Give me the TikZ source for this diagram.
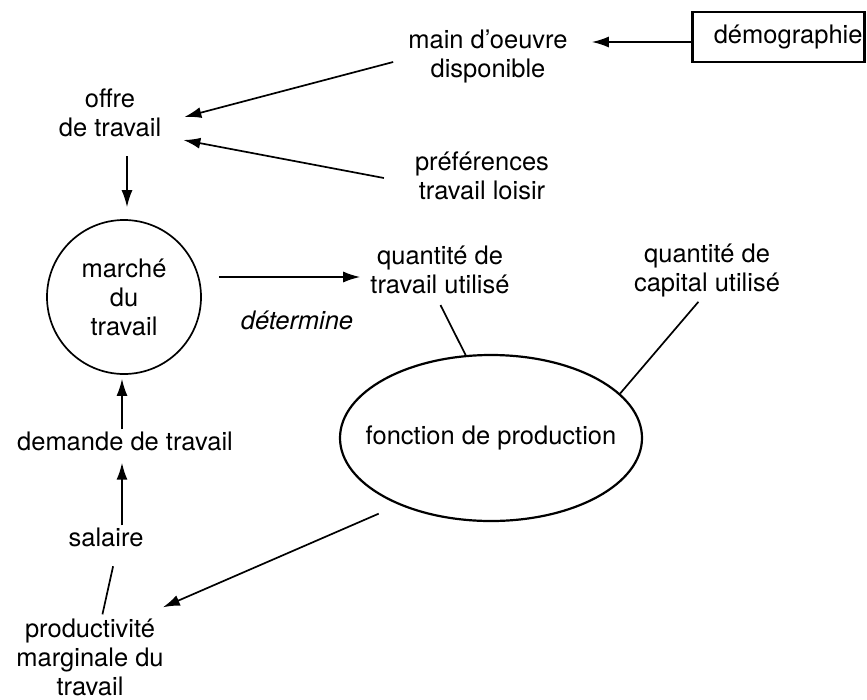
\documentclass[tikz,border=0pt]{standalone}
\usepackage{fontspec}
\setmainfont{TeX Gyre Heros}
\usetikzlibrary{arrows.meta,shapes.geometric,calc}
\begin{document}
\begin{tikzpicture}[x=1pt,y=-1pt,
  txt/.style={font=\fontsize{25.5}{29}\selectfont},
  lbl/.style={txt,align=center,inner sep=2pt},
  arr/.style={line width=1.7pt,-{Latex[length=17pt,width=11pt]}},
  ln/.style={line width=1.7pt}]
\useasboundingbox (0,0) rectangle (867,699);
% nodes
\node[draw,line width=2.6pt,minimum height=50pt,text width=168pt,align=right,inner xsep=2pt,txt] (demo) at (778.5,37) {démographie};
\node[lbl] (main) at (488,56) {main d'oeuvre\\disponible};
\node[lbl] (offre) at (110,113) {offre\\de travail};
\node[lbl] (pref) at (482,176) {préférences\\travail loisir};
\node[lbl,draw,circle,line width=1.7pt,minimum size=154pt,inner sep=0pt] (march) at (124,297) {marché\\du\\travail};
\node[lbl] (qtrav) at (440,270) {quantité de\\travail utilisé};
\node[lbl] (qcap) at (707,270) {quantité de\\capital utilisé};
\node[lbl,font={\fontsize{25.5}{29}\selectfont\itshape}] (det) at (297,320) {détermine};
\node[lbl,draw,ellipse,line width=2.2pt,minimum width=302pt,minimum height=166pt,inner xsep=-30pt] (prod) at (491,438) {fonction de production};
\node[lbl] (dem) at (125,441) {demande de travail};
\node[lbl] (sal) at (106,537) {salaire};
\node[lbl] (pm) at (90,657) {productivité\\marginale du\\travail};
% connectors
\draw[arr,shorten >=22pt] ([yshift=-5pt]demo.west) -- ([yshift=-5pt]demo.west -| main.east);
\draw[arr] ($(main.west)+(-13,6)$) -- ($(offre.east)+(21,4)$);
\draw[arr] ($(pref.west)+(-29,2)$) -- ($(offre.east)+(20,27)$);
\draw[arr,shorten <=17pt,shorten >=12pt] ([xshift=3pt]march.north |- offre.south) -- ([xshift=3pt]march.north);
\draw[arr,shorten <=17pt,shorten >=8pt] ([yshift=20pt]march.east) -- ([yshift=20pt]march.east -| qtrav.west);
\draw[ln,shorten <=10pt] ([xshift=-4pt]qtrav.south) -- (prod.107);
\draw[ln,shorten <=4pt] ([xshift=-6pt]qcap.south) -- (prod.19);
\draw[arr,shorten <=22pt] (prod.216) -- ($(pm.north east)+(-3,-9)$);
\draw[arr,shorten >=4pt] ([xshift=-2pt]march.south |- dem.north) -- ([xshift=-2pt]march.south);
\draw[arr,shorten >=10pt] ([xshift=16pt]sal.north) -- ([xshift=16pt]sal.north |- dem.south);
\draw[ln,shorten <=18pt,shorten >=2pt] ([xshift=11pt]sal.south) -- ([xshift=12pt]pm.north);
\end{tikzpicture}
\end{document}
